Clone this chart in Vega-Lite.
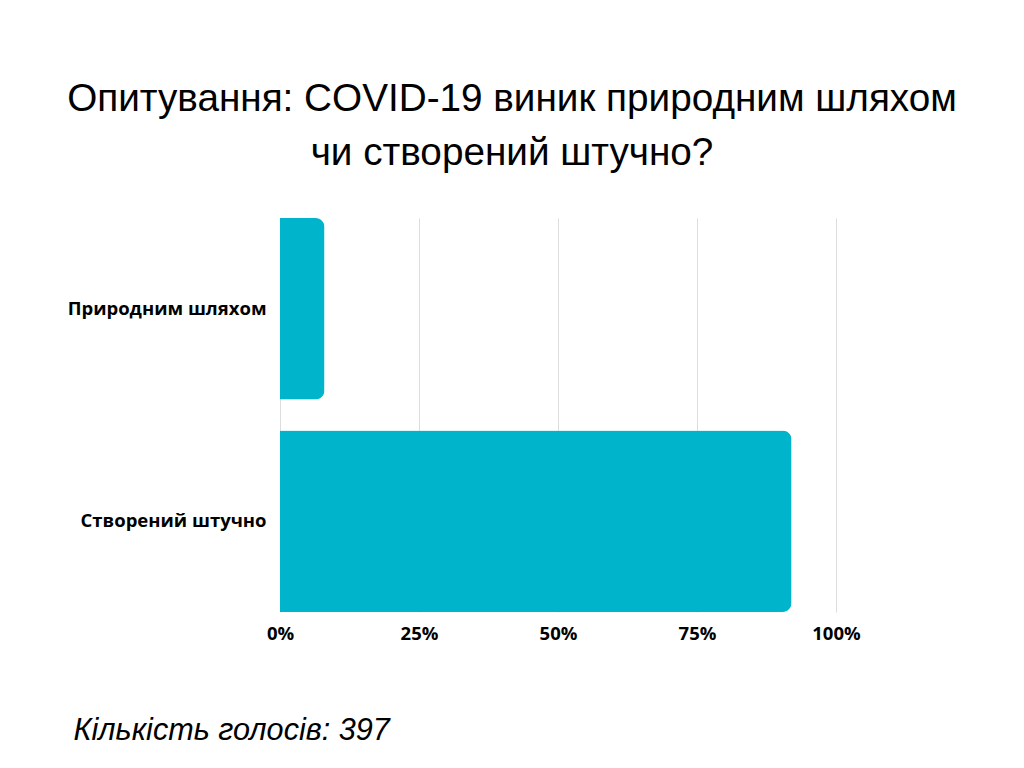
{
  "$schema": "https://vega.github.io/schema/vega-lite/v6.json",
  "description": "Poll: did COVID-19 emerge naturally or was it man-made",
  "autosize": {"type": "none"},
  "width": 556,
  "height": 394,
  "padding": {"left": 280, "top": 218, "right": 188, "bottom": 156},
  "background": "#ffffff",
  "title": {
    "text": ["Опитування: COVID-19 виник природним шляхом", "чи створений штучно?"],
    "anchor": "middle",
    "frame": "group",
    "dx": -46,
    "offset": 45,
    "font": "Liberation Sans",
    "fontSize": 38.7,
    "fontWeight": "normal",
    "lineHeight": 54,
    "color": "#000000"
  },
  "data": {
    "values": [
      {"answer": "Природним шляхом", "share": 0.08},
      {"answer": "Створений штучно", "share": 0.92}
    ]
  },
  "mark": {"type": "bar", "color": "#00b4cc", "cornerRadiusEnd": 9},
  "encoding": {
    "y": {
      "field": "answer",
      "type": "nominal",
      "sort": null,
      "scale": {"paddingInner": 0.146, "paddingOuter": 0},
      "axis": {
        "title": null,
        "domain": false,
        "ticks": false,
        "labelPadding": 14,
        "labelLimit": 400,
        "labelFont": "Open Sans",
        "labelFontWeight": "bold",
        "labelFontSize": 18.5,
        "labelColor": "#000000"
      }
    },
    "x": {
      "field": "share",
      "type": "quantitative",
      "scale": {"domain": [0, 1]},
      "axis": {
        "values": [0, 0.25, 0.5, 0.75, 1],
        "format": ".0%",
        "domain": false,
        "ticks": false,
        "grid": true,
        "gridColor": "#dddddd",
        "gridWidth": 1,
        "labelFlush": false,
        "labelPadding": 12,
        "labelFont": "Open Sans",
        "labelFontWeight": "bold",
        "labelFontSize": 18.5,
        "labelColor": "#000000",
        "title": "Кількість голосів: 397",
        "titleFont": "Liberation Sans",
        "titleFontStyle": "italic",
        "titleFontWeight": "normal",
        "titleFontSize": 30.6,
        "titleColor": "#000000",
        "titleAnchor": "start",
        "titleAlign": "left",
        "titleBaseline": "alphabetic",
        "titleX": -207,
        "titleY": 127
      }
    }
  },
  "config": {"view": {"stroke": null}}
}
